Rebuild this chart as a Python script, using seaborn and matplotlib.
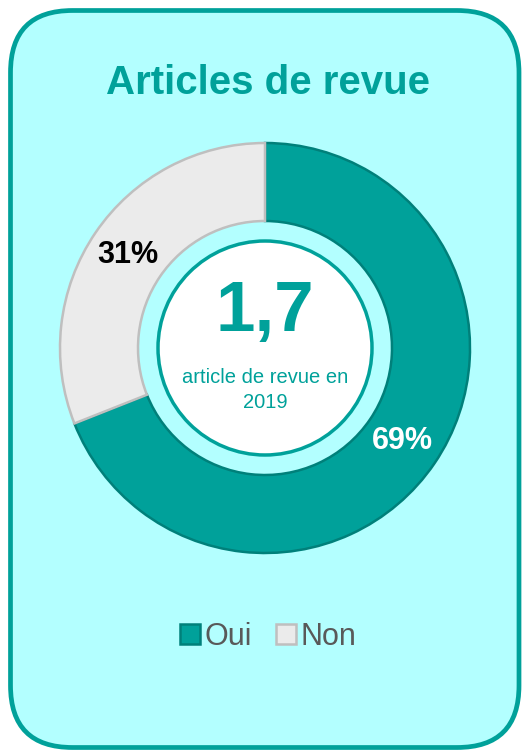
import matplotlib
matplotlib.use("Agg")
import matplotlib.pyplot as plt
from matplotlib.patches import FancyBboxPatch, Circle
import seaborn as sns

sns.set_style("white")
plt.rcParams["font.family"] = ["Liberation Sans", "DejaVu Sans"]

# data
categories = ["Oui", "Non"]
shares = [69, 31]
headline = "1,7"
subtitle = "article de revue en\n2019"
title = "Articles de revue"

teal = "#00A19A"
teal_dark = "#00807A"
grey = "#EBEBEB"
grey_edge = "#BFBFBF"
bg = "#B3FFFF"

W, H = 526, 752
fig = plt.figure(figsize=(W / 100, H / 100), dpi=100)
ax = fig.add_axes([0, 0, 1, 1])

# rounded card
card = FancyBboxPatch((10.5, 4.5), 508.5, 737, boxstyle="round,pad=0,rounding_size=62",
                      facecolor=bg, edgecolor=teal, linewidth=3.4, zorder=0)
ax.add_patch(card)

cx, cy = 265, H - 348
wedges, texts, autotexts = ax.pie(
    shares, colors=[teal, grey], startangle=90, counterclock=False,
    center=(cx, cy), radius=205, autopct="%d%%", pctdistance=0.81,
    wedgeprops=dict(width=78, linewidth=1.8),
    textprops=dict(fontsize=22, fontweight="bold"))
wedges[0].set_edgecolor(teal_dark)
wedges[1].set_edgecolor(grey_edge)
autotexts[0].set_color("white")
autotexts[1].set_color("black")
ax.set_xlim(0, W)
ax.set_ylim(0, H)
ax.set_aspect("equal")
ax.axis("off")

# center circle
ax.add_patch(Circle((cx, cy), 107, facecolor="white", edgecolor=teal, linewidth=2.5, zorder=3))
ax.text(cx, H - 313, headline, ha="center", va="center", fontsize=51,
        fontweight="bold", color=teal, zorder=4)
ax.text(cx, H - 390, subtitle, ha="center", va="center", fontsize=14.5,
        color=teal, linespacing=1.35, zorder=4)

ax.text(268, H - 83, title, ha="center", va="center", fontsize=29,
        fontweight="bold", color=teal)

leg = ax.legend(wedges, categories, loc="center", bbox_to_anchor=(0.51, 1 - 637 / H),
                ncol=2, frameon=False, fontsize=22, handlelength=0.65, handleheight=0.65,
                handletextpad=0.15, columnspacing=0.8, labelcolor="#595959")

fig.savefig("out.png", dpi=100)
